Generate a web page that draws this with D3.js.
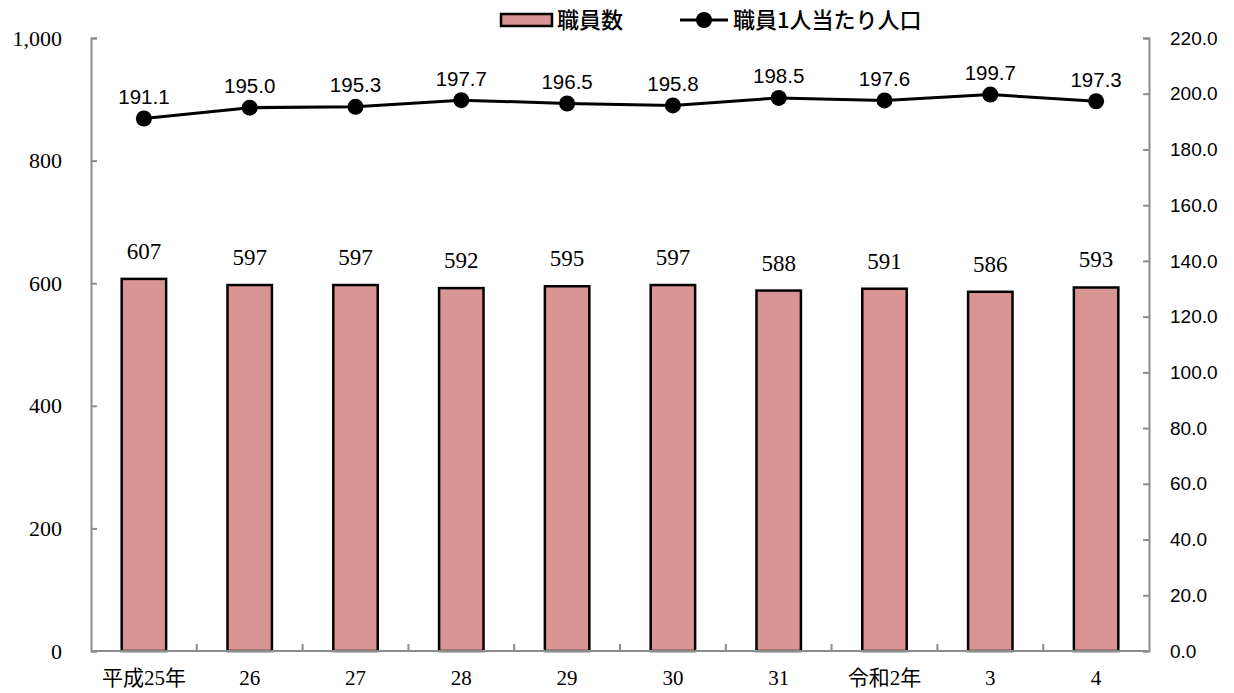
<!DOCTYPE html>
<html><head><meta charset="utf-8">
<script src="https://cdn.jsdelivr.net/npm/d3@7"></script>
<style>body{margin:0;background:#fff}</style>
</head><body>
<svg id="c" width="1234" height="693"></svg>
<script>
const categories = ["平成25年","26","27","28","29","30","31","令和2年","3","4"];
const staff = [607,597,597,592,595,597,588,591,586,593];
const perStaff = [191.1,195.0,195.3,197.7,196.5,195.8,198.5,197.6,199.7,197.3];
const leftTicks = [0,200,400,600,800,1000];
const rightTicks = [0,20,40,60,80,100,120,140,160,180,200,220];

const svg = d3.select("#c");
const L = 91, R = 1149, T = 38, B = 651;
const serif = "'Liberation Serif','Times New Roman','Noto Sans CJK JP',serif";
const sans = "'Liberation Sans',Arial,sans-serif";
const cjk = "'Noto Sans CJK JP',sans-serif";
const axisColor = "#8c8c8c";

const x = d3.scaleBand().domain(categories).range([L, R]).paddingInner(0).paddingOuter(0);
const yL = d3.scaleLinear().domain([0,1000]).range([B, T]);
const yR = d3.scaleLinear().domain([0,220]).range([B, T]);

// bars
const bw = x.bandwidth()*0.42;
svg.append("g").selectAll("rect").data(staff).join("rect")
  .attr("x",(d,i)=>x(categories[i])+x.bandwidth()/2-bw/2)
  .attr("y",d=>yL(d)).attr("width",bw).attr("height",d=>B-yL(d))
  .attr("fill","#D99594").attr("stroke","#000").attr("stroke-width",2.5);

// axes
const gl = svg.append("g").attr("transform",`translate(${L},0)`)
  .call(d3.axisLeft(yL).tickValues(leftTicks).tickSize(-6).tickPadding(29).tickFormat(d3.format(",")));
const gr = svg.append("g").attr("transform",`translate(${R},0)`)
  .call(d3.axisRight(yR).tickValues(rightTicks).tickSize(-6).tickPadding(21).tickFormat(d3.format(".1f")));
const gb = svg.append("g").attr("transform",`translate(0,${B})`)
  .call(d3.axisBottom(x).tickSize(0).tickPadding(19));
[gl,gr,gb].forEach(g=>{g.selectAll("path,line").attr("stroke",axisColor).attr("stroke-width",2);});
gb.select("path").attr("d",`M${L},0H${R}`);
gl.selectAll("text").attr("font-family",serif).attr("font-size",22).attr("fill","#000");
gr.selectAll("text").attr("font-family",sans).attr("font-size",19).attr("fill","#000");
gb.selectAll("text").attr("font-family",serif).attr("font-size",21).attr("fill","#000").attr("dy","0.71em");
// category separators
svg.append("g").selectAll("line").data(categories.slice(1)).join("line")
  .attr("x1",d=>x(d)).attr("x2",d=>x(d)).attr("y1",B).attr("y2",B-7)
  .attr("stroke",axisColor).attr("stroke-width",2);

// bar labels
svg.append("g").selectAll("text").data(staff).join("text")
  .attr("x",(d,i)=>x(categories[i])+x.bandwidth()/2).attr("y",d=>yL(d)-20)
  .attr("text-anchor","middle").attr("font-family",serif).attr("font-size",23).text(d=>d);

// line
const cx = i=>x(categories[i])+x.bandwidth()/2;
svg.append("path").datum(perStaff)
  .attr("d",d3.line().x((d,i)=>cx(i)).y(d=>yR(d)))
  .attr("fill","none").attr("stroke","#000").attr("stroke-width",3);
svg.append("g").selectAll("circle").data(perStaff).join("circle")
  .attr("cx",(d,i)=>cx(i)).attr("cy",d=>yR(d)).attr("r",8).attr("fill","#000");
svg.append("g").selectAll("text").data(perStaff).join("text")
  .attr("x",(d,i)=>cx(i)).attr("y",d=>yR(d)-14.5)
  .attr("text-anchor","middle").attr("font-family",sans).attr("font-size",20.5).text(d=>d.toFixed(1));

// legend
const lg = svg.append("g");
lg.append("rect").attr("x",501).attr("y",14).attr("width",51).attr("height",12)
  .attr("fill","#D99594").attr("stroke","#000").attr("stroke-width",2.5);
lg.append("text").attr("x",557).attr("y",28).attr("font-family",cjk).attr("font-size",22).attr("font-weight",500).text("職員数");
lg.append("line").attr("x1",680).attr("x2",728).attr("y1",20).attr("y2",20).attr("stroke","#000").attr("stroke-width",3);
lg.append("circle").attr("cx",704).attr("cy",20).attr("r",8).attr("fill","#000");
lg.append("text").attr("x",733).attr("y",28).attr("font-family",cjk).attr("font-size",22).attr("font-weight",500).text("職員1人当たり人口");
</script>
</body></html>
